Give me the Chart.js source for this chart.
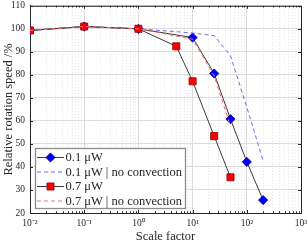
<!DOCTYPE html>
<html>
<head>
<meta charset="utf-8">
<script src="https://cdn.jsdelivr.net/npm/chart.js@4.4.1/dist/chart.umd.min.js"></script>
<style>
  html, body { margin: 0; padding: 0; background: #fff; }
  #wrap { width: 308px; height: 244px; }
</style>
</head>
<body>
<div id="wrap"><canvas id="chart" width="308" height="244"></canvas></div>
<script>
// values
const scaleLow = [0.01, 0.1, 1, 10, 25, 50, 100, 200];
const speedLow = [99.3, 101, 100, 96.2, 80.6, 60.8, 42.2, 25.6];
const scaleLowNC = [0.01, 0.1, 1, 10, 25, 50, 100, 200];
const speedLowNC = [99.3, 101, 100, 98.2, 97, 88.3, 66, 42.7];
const scaleHigh = [0.01, 0.1, 1, 5, 10, 25, 50];
const speedHigh = [99.3, 101, 100, 92.4, 77.2, 53.4, 35.5];
const scaleHighNC = [0.01, 0.1, 1, 10, 25, 50];
const speedHighNC = [99.3, 101, 100, 95.5, 79.5, 57.7];
const seriesNames = ['0.1 \u03bcW', '0.1 \u03bcW | no convection', '0.7 \u03bcW', '0.7 \u03bcW | no convection'];
const yTicks = [20, 30, 40, 50, 60, 70, 80, 90, 100, 110];
const xDecades = [-2, -1, 0, 1, 2, 3];
const xTickLabels = ['10\u207b\u00b2', '10\u207b\u00b9', '10\u2070', '10\u00b9', '10\u00b2', '10\u00b3'];

const serif = '"Liberation Serif", "Times New Roman", serif';
const axisColor = '#262626';

const toXY = (xs, ys) => xs.map((x, i) => ({ x: x, y: ys[i] }));

const isPow10 = (v) => Math.abs(Math.log10(v) - Math.round(Math.log10(v))) < 1e-6;

// every 1..9 x 10^k position for the log axis
const xTickValues = [];
for (const d of xDecades) {
  if (d === xDecades[xDecades.length - 1]) {
    xTickValues.push(Math.pow(10, d));
  } else {
    for (let m = 1; m <= 9; m++) xTickValues.push(m * Math.pow(10, d));
  }
}

const series = [
  {
    label: seriesNames[0],
    data: toXY(scaleLow, speedLow),
    borderColor: '#3a3a3a',
    borderWidth: 1,
    pointStyle: 'rectRot',
    pointRadius: 4.6,
    pointBackgroundColor: '#0000ff',
    pointBorderColor: '#00008a',
    pointBorderWidth: 0.8,
    order: 4,
  },
  {
    label: seriesNames[1],
    data: toXY(scaleLowNC, speedLowNC),
    borderColor: '#6a6aff',
    borderWidth: 1,
    borderDash: [4, 3],
    pointRadius: 0,
    order: 3,
  },
  {
    label: seriesNames[2],
    data: toXY(scaleHigh, speedHigh),
    borderColor: '#3a3a3a',
    borderWidth: 1,
    pointStyle: 'rect',
    pointRadius: 5,
    pointBackgroundColor: '#ff0000',
    pointBorderColor: '#8a0000',
    pointBorderWidth: 0.8,
    order: 2,
  },
  {
    label: seriesNames[3],
    data: toXY(scaleHighNC, speedHighNC),
    borderColor: '#ff6a6a',
    borderWidth: 1,
    borderDash: [4, 3],
    pointRadius: 0,
    order: 1,
  },
];

// box round the plot and the small inward ticks
const framePlugin = {
  id: 'frame',
  beforeDatasetsDraw(chart) {
    const { ctx, chartArea: a } = chart;
    const xs = chart.scales.x;
    const ys = chart.scales.y;
    ctx.save();
    ctx.strokeStyle = axisColor;
    ctx.lineWidth = 1;
    ctx.beginPath();
    ctx.moveTo(a.left, a.top + 0.5);
    ctx.lineTo(a.right + 0.5, a.top + 0.5);
    ctx.lineTo(a.right + 0.5, a.bottom);
    ctx.stroke();
    ctx.beginPath();
    for (const t of xs.ticks) {
      const px = Math.round(xs.getPixelForValue(t.value)) + 0.5;
      const len = isPow10(t.value) ? 3 : 1.7;
      ctx.moveTo(px, a.bottom);
      ctx.lineTo(px, a.bottom - len);
      ctx.moveTo(px, a.top);
      ctx.lineTo(px, a.top + len);
    }
    for (const t of ys.ticks) {
      const py = Math.round(ys.getPixelForValue(t.value)) + 0.5;
      ctx.moveTo(a.left, py);
      ctx.lineTo(a.left + 3, py);
      ctx.moveTo(a.right, py);
      ctx.lineTo(a.right - 3, py);
    }
    ctx.stroke();
    ctx.restore();
  },
};

// legend drawn inside the lower left corner
const legendPlugin = {
  id: 'innerLegend',
  afterDraw(chart) {
    const { ctx, chartArea: a } = chart;
    const left = a.left + 5;
    const top = a.bottom - 65;
    const w = 150;
    const h = 60;
    ctx.save();
    ctx.fillStyle = '#fff';
    ctx.fillRect(left, top, w, h);
    ctx.strokeStyle = '#8c8c8c';
    ctx.lineWidth = 1.3;
    ctx.strokeRect(left + 0.5, top + 0.5, w, h);
    ctx.font = '12.5px ' + serif;
    ctx.textBaseline = 'middle';
    chart.data.datasets.forEach((ds, i) => {
      const y = top + 9.5 + i * 14.5;
      ctx.save();
      ctx.strokeStyle = ds.borderColor;
      ctx.lineWidth = ds.borderWidth;
      ctx.setLineDash(ds.borderDash || []);
      ctx.beginPath();
      ctx.moveTo(left + 2, y);
      ctx.lineTo(left + 29, y);
      ctx.stroke();
      ctx.restore();
      if (ds.pointRadius > 0) {
        ctx.fillStyle = ds.pointBackgroundColor;
        ctx.strokeStyle = ds.pointBorderColor;
        ctx.lineWidth = ds.pointBorderWidth;
        Chart.helpers.drawPoint(ctx, { pointStyle: ds.pointStyle, radius: ds.pointRadius, borderWidth: ds.pointBorderWidth, rotation: 0 }, left + 15.5, y);
      }
      ctx.fillStyle = axisColor;
      ctx.fillText(ds.label, left + 30.5, y + 0.5);
    });
    ctx.restore();
  },
};

new Chart(document.getElementById('chart'), {
  type: 'line',
  data: { datasets: series },
  options: {
    responsive: false,
    animation: false,
    layout: { padding: { top: 3, right: 7, left: 0, bottom: 0 } },
    plugins: { legend: { display: false }, tooltip: { enabled: false } },
    elements: { line: { tension: 0 } },
    scales: {
      x: {
        type: 'logarithmic',
        min: 0.01,
        max: 1000,
        afterBuildTicks: (scale) => {
          scale.ticks = xTickValues.map((v) => ({ value: v, major: isPow10(v) }));
        },
        afterFit: (scale) => {
          scale.height = 31;
          scale.paddingLeft = 0;
          scale.paddingRight = 0;
        },
        ticks: {
          autoSkip: false,
          maxRotation: 0,
          minRotation: 0,
          padding: 5,
          color: axisColor,
          font: { family: serif, size: 9.5 },
          callback: (v) => (isPow10(v) ? xTickLabels[xDecades.indexOf(Math.round(Math.log10(v)))] : ''),
        },
        grid: {
          drawTicks: false,
          lineWidth: 1,
          color: (c) => (c.tick && !isPow10(c.tick.value) ? '#e2e2e2' : '#dcdcdc'),
        },
        border: {
          color: axisColor,
          width: 1,
          dash: (c) => (c.type === 'tick' && c.tick && !isPow10(c.tick.value) ? [1, 2] : []),
        },
        title: {
          display: true,
          text: 'Scale factor',
          color: axisColor,
          font: { family: serif, size: 12.5 },
          padding: { top: 0, bottom: 0 },
        },
      },
      y: {
        min: 20,
        max: 110,
        afterBuildTicks: (scale) => {
          scale.ticks = yTicks.map((v) => ({ value: v }));
        },
        afterFit: (scale) => {
          scale.width = 30;
          scale.paddingTop = 0;
          scale.paddingBottom = 0;
        },
        ticks: {
          padding: 5,
          color: axisColor,
          font: { family: serif, size: 9.5 },
        },
        grid: { drawTicks: false, color: '#dcdcdc', lineWidth: 1 },
        border: { color: axisColor, width: 1 },
        title: {
          display: true,
          text: 'Relative rotation speed /%',
          color: axisColor,
          font: { family: serif, size: 12.5 },
          padding: { top: 1, bottom: 0 },
        },
      },
    },
  },
  plugins: [framePlugin, legendPlugin],
});
</script>
</body>
</html>
